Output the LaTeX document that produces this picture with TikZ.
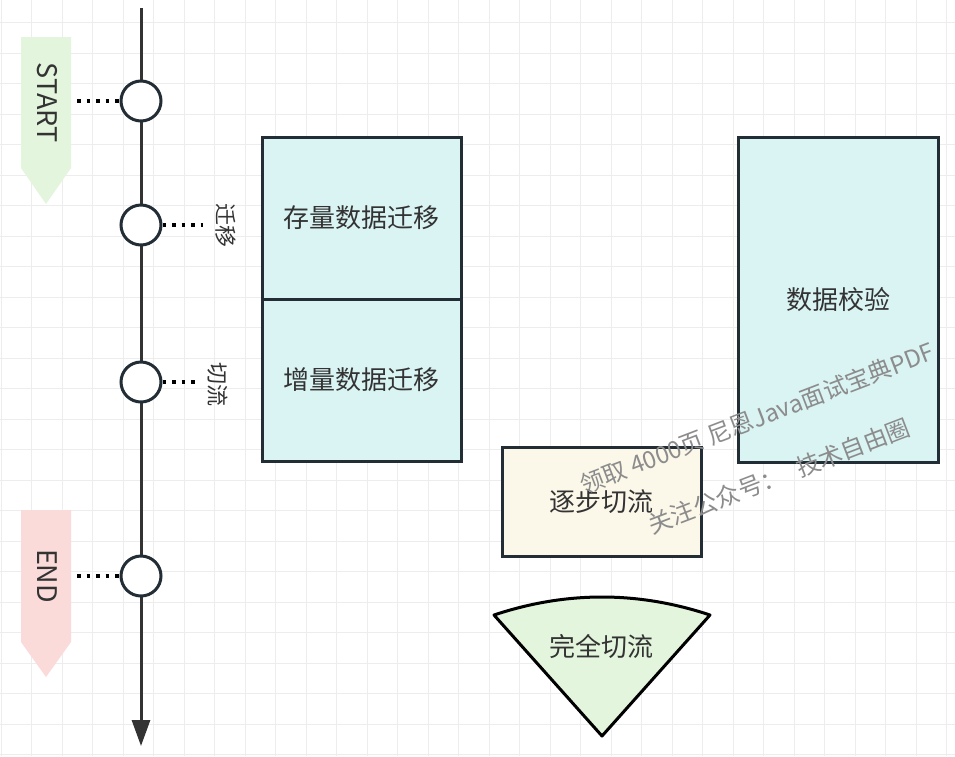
\documentclass[tikz,border=0pt]{standalone}
\usepackage{fontspec}
\setmainfont{Noto Sans CJK SC}
\usetikzlibrary{arrows.meta}
\definecolor{stroke}{HTML}{232D36}
\definecolor{txt}{HTML}{333333}
\definecolor{teal}{HTML}{DAF3F3}
\definecolor{cream}{HTML}{FBF8EA}
\definecolor{lgreen}{HTML}{E3F5DC}
\definecolor{pink}{HTML}{FADBD9}
\definecolor{gridc}{HTML}{EDEDED}
\tikzset{
  box/.style={draw=stroke, line width=3pt, inner sep=0pt, outer sep=0pt, text=txt, font=\fontsize{26}{30}\selectfont},
  milestone/.style={circle, draw=stroke, fill=white, line width=3pt, minimum size=40pt, inner sep=0pt},
  dotline/.style={stroke, line width=3.5pt, dash pattern=on 3.5pt off 6pt},
  sidelabel/.style={text=txt, rotate=-90, font=\fontsize{22}{26}\selectfont, inner sep=0pt},
  tag/.style={text=txt, rotate=-90, font=\fontsize{27}{30}\selectfont, inner sep=0pt},
  wm/.style={text=black!45, rotate=21, font=\fontsize{24}{28}\selectfont, inner sep=0pt}
}
\begin{document}
\begin{tikzpicture}[x=1pt,y=-1pt]
\useasboundingbox (0,0) rectangle (955,756);
\fill[white] (0,0) rectangle (955,756);
% grid
\foreach \x in {1.3,31.8,...,955} \draw[gridc, line width=1pt] (\x,0) -- (\x,756);
\foreach \y in {22.7,53.2,...,756} \draw[gridc, line width=1pt] (0,\y) -- (955,\y);

% start / end tags
\fill[lgreen] (21,37) -- (71,37) -- (71,168) -- (46,204) -- (21,168) -- cycle;
\node[tag] (start) at (47,102.5) {START};
\fill[pink] (21,510) -- (71,510) -- (71,642) -- (46,677) -- (21,642) -- cycle;
\node[tag] (end) at (47,576) {END};

% timeline
\coordinate (tltop) at (141,8);
\coordinate (tlbot) at (141,746);
\draw[line width=3pt, color=txt, -{Triangle[width=18pt,length=26pt]}] (tltop) -- (tlbot);

\node[milestone] (m1) at (141,101) {};
\node[milestone] (m2) at (141,225) {};
\node[milestone] (m3) at (141,382) {};
\node[milestone] (m4) at (141,576) {};

\coordinate (d1) at (77,101);
\coordinate (d2) at (203,225);
\coordinate (d3) at (196,382);
\coordinate (d4) at (77,576);
\draw[dotline] (d1) -- (m1.west);
\draw[dotline] (m2.east) -- (d2);
\draw[dotline] (m3.east) -- (d3);
\draw[dotline] (d4) -- (m4.west);

\node[sidelabel] (l1) at (226,225) {迁移};
\node[sidelabel] (l2) at (218,384) {切流};

% boxes
\node[box, fill=teal, minimum width=199pt, minimum height=162pt] (b1) at (361.5,218) {存量数据迁移};
\node[box, fill=teal, minimum width=199pt, minimum height=162pt] (b2) at (361.5,380) {增量数据迁移};
\node[box, fill=teal, minimum width=200pt, minimum height=325pt] (b3) at (838,299.5) {数据校验};
\node[box, fill=cream, minimum width=199pt, minimum height=109pt] (b4) at (601.5,501.5) {逐步切流};

% sector
\draw[stroke, fill=lgreen, line width=3pt, line join=round] (602,736) -- (494,615) .. controls (566,591) and (638,591) .. (710,615) -- cycle;
\node[text=txt, font=\fontsize{26}{30}\selectfont, inner sep=0pt] (b5) at (601.5,646.5) {完全切流};

% watermark
\node[wm] (w1) at (757,418) {领取 4000页 尼恩Java面试宝典PDF};
\node[wm] (w2) at (779,476) {关注公众号：\hspace{14pt}技术自由圈};
\end{tikzpicture}
\end{document}
